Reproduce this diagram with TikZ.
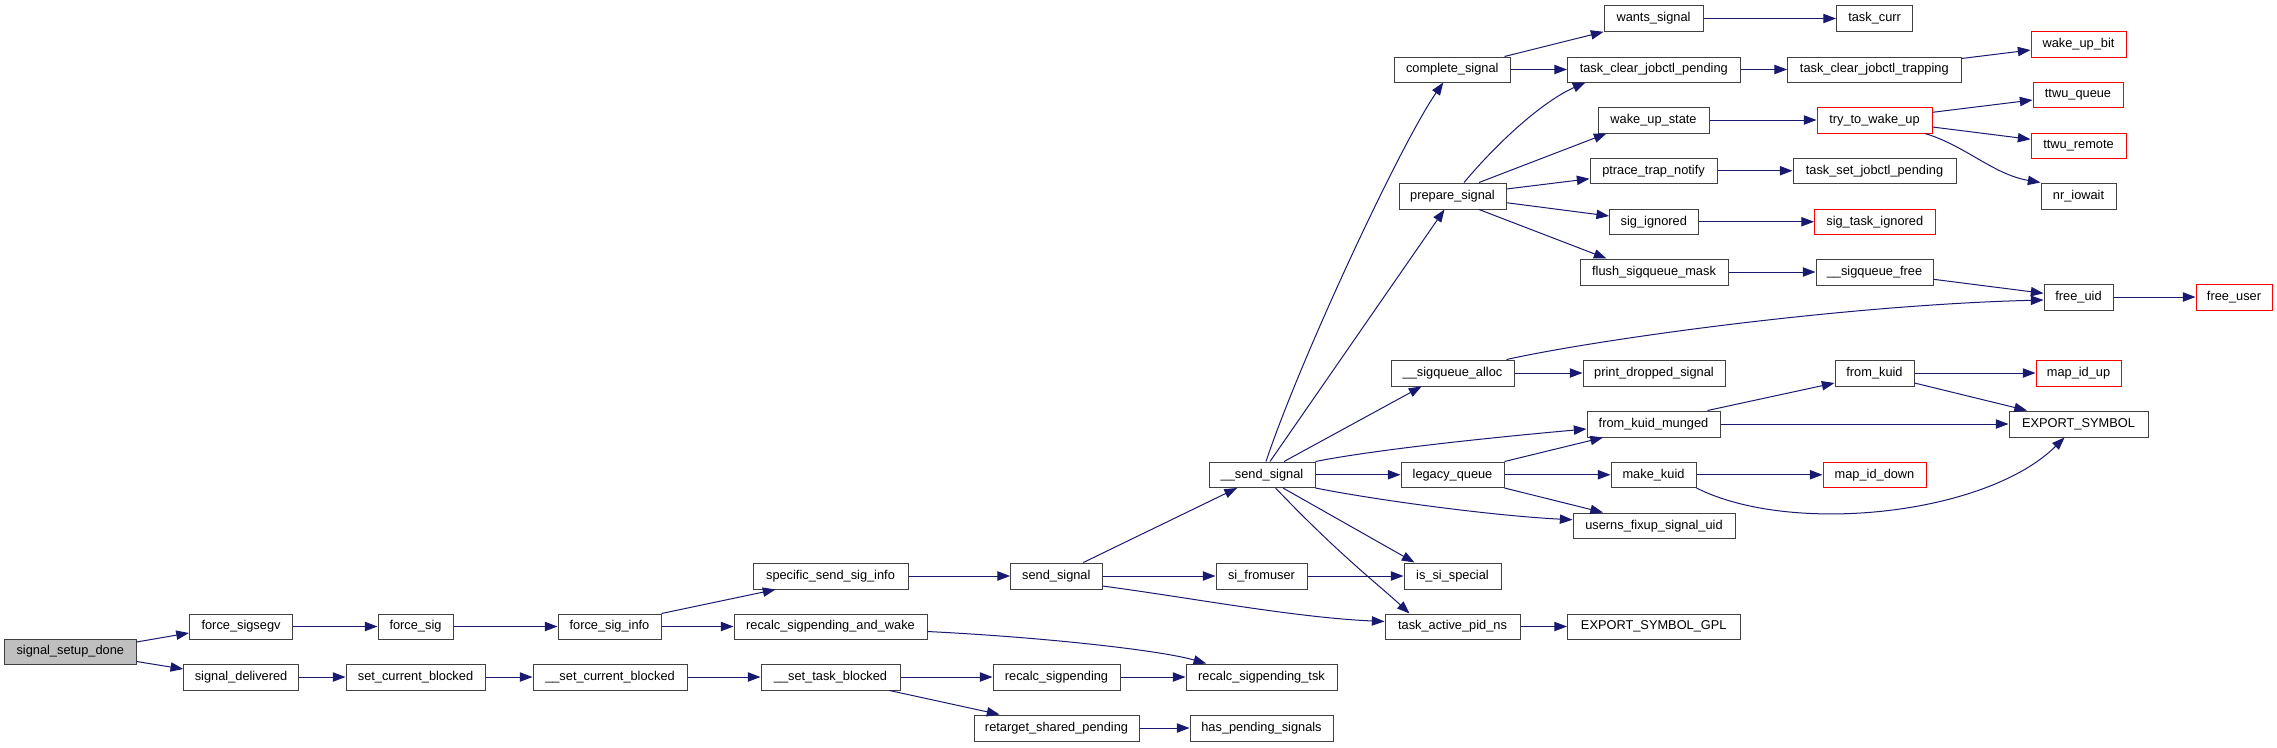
\documentclass[tikz,border=0pt]{standalone}
\usepackage{fontspec}
\setmainfont{Liberation Sans}
\usetikzlibrary{arrows.meta,calc}
\definecolor{navyc}{HTML}{191970}
\definecolor{boxgray}{HTML}{404040}
\definecolor{boxred}{HTML}{FF0000}
\newcommand\dnode[7][fn]{\node[#1,minimum width={(#5-#3)*0.75pt},minimum height={(#6-#4)*0.75pt}] (#2) at ({(#3+#5)/2},{(#4+#6)/2}) {#7};}
\begin{document}
\begin{tikzpicture}[x=0.75pt,y=-0.75pt,
  fn/.style={draw=boxgray,line width=0.75pt,inner sep=0pt,font=\fontsize{9.6}{11}\selectfont,text=black},
  fnred/.style={fn,draw=boxred},
  fnroot/.style={fn,fill=black!25},
  cedge/.style={draw=navyc,line width=0.75pt,-{Triangle[length=9.5pt,width=7pt]}}]
\useasboundingbox[fill=white] (0,0) rectangle (2277,747);
% nodes
\dnode[fnroot]{ssd}{4.6}{639}{136}{664}{signal\_setup\_done}
\dnode{fsegv}{189.4}{614}{292.7}{639}{force\_sigsegv}
\dnode{fsig}{378}{614}{453}{639}{force\_sig}
\dnode{fsi}{558}{614}{661}{639}{force\_sig\_info}
\dnode{sdel}{183.7}{664}{298.5}{690}{signal\_delivered}
\dnode{scb}{346}{664}{485}{690}{set\_current\_blocked}
\dnode{uscb}{533}{664}{687}{690}{\_\_set\_current\_blocked}
\dnode{ssi}{753}{563}{908}{589}{specific\_send\_sig\_info}
\dnode{ssig}{1010.6}{563}{1102}{589}{send\_signal}
\dnode{rsw}{734}{614}{927}{639}{recalc\_sigpending\_and\_wake}
\dnode{ustb}{761}{664}{900}{690}{\_\_set\_task\_blocked}
\dnode{rsp}{993}{664}{1120}{690}{recalc\_sigpending}
\dnode{rsptsk}{1186}{664}{1337}{690}{recalc\_sigpending\_tsk}
\dnode{rsh}{974}{715}{1139}{741}{retarget\_shared\_pending}
\dnode{hps}{1190}{715}{1333}{741}{has\_pending\_signals}
\dnode{usend}{1209}{462}{1315}{487.5}{\_\_send\_signal}
\dnode{lq}{1401}{462}{1504}{487.5}{legacy\_queue}
\dnode{mk}{1611}{462}{1696}{487.5}{make\_kuid}
\dnode{fkm}{1587}{411}{1720}{437}{from\_kuid\_munged}
\dnode{usfix}{1573}{513}{1735}{538.5}{userns\_fixup\_signal\_uid}
\dnode{sifu}{1216}{563}{1307}{589}{si\_fromuser}
\dnode{issp}{1404}{563}{1501}{589}{is\_si\_special}
\dnode{tapn}{1385}{614}{1520}{639}{task\_active\_pid\_ns}
\dnode{esg}{1567.5}{614}{1740}{639}{EXPORT\_SYMBOL\_GPL}
\dnode{wants}{1604}{5.7}{1703}{31.3}{wants\_signal}
\dnode{cs}{1394}{57}{1510.5}{82}{complete\_signal}
\dnode{tcjp}{1567.5}{57}{1740}{82}{task\_clear\_jobctl\_pending}
\dnode{wus}{1598}{107}{1709}{133}{wake\_up\_state}
\dnode{ptn}{1590}{158}{1717}{183.5}{ptrace\_trap\_notify}
\dnode{ps}{1399}{183}{1506}{209}{prepare\_signal}
\dnode{sigi}{1609.6}{209}{1698}{234.5}{sig\_ignored}
\dnode{fsm}{1580}{259}{1728}{285}{flush\_sigqueue\_mask}
\dnode{usa}{1391}{360}{1514}{386}{\_\_sigqueue\_alloc}
\dnode{pds}{1583}{360}{1725}{386}{print\_dropped\_signal}
\dnode{tcurr}{1836.5}{5.7}{1912.7}{31.3}{task\_curr}
\dnode[fnred]{wub}{2031}{31}{2126}{57}{wake\_up\_bit}
\dnode{tcjt}{1787.6}{57}{1961}{82}{task\_clear\_jobctl\_trapping}
\dnode[fnred]{ttq}{2033}{82}{2123}{107.3}{ttwu\_queue}
\dnode[fnred]{ttwu}{1817}{107}{1932}{133}{try\_to\_wake\_up}
\dnode[fnred]{ttr}{2031}{133}{2126}{158}{ttwu\_remote}
\dnode{tsjp}{1793}{158}{1956}{183.5}{task\_set\_jobctl\_pending}
\dnode{nri}{2041}{183}{2116}{209}{nr\_iowait}
\dnode[fnred]{sti}{1814.5}{209}{1935}{234.5}{sig\_task\_ignored}
\dnode{usf}{1816}{259}{1933}{285}{\_\_sigqueue\_free}
\dnode{fuid}{2044}{284}{2113}{310}{free\_uid}
\dnode[fnred]{fuser}{2196}{284}{2272}{310}{free\_user}
\dnode{fk}{1835}{360}{1914}{386}{from\_kuid}
\dnode[fnred]{miu}{2036}{360}{2121}{386}{map\_id\_up}
\dnode{es}{2009}{411}{2148}{437}{EXPORT\_SYMBOL}
\dnode[fnred]{mid}{1823}{462}{1926}{487.5}{map\_id\_down}
% edges
\draw[cedge] ($(ssd.east)+(0,-9.5)$) -- ($(fsegv.west)+(0,6.5)$);
\draw[cedge] ($(ssd.east)+(0,10)$) -- ($(sdel.west)+(0,-8)$);
\draw[cedge] (fsegv.east) -- (fsig.west);
\draw[cedge] (fsig.east) -- (fsi.west);
\draw[cedge] (fsi.north east) -- ($(ssi.south west)+(23,0)$);
\draw[cedge] (fsi.east) -- (rsw.west);
\draw[cedge] (ssi.east) -- (ssig.west);
\draw[cedge] ($(ssig.north)+(27,0)$) -- ($(usend.south)+(-25,0)$);
\draw[cedge] (ssig.east) -- (sifu.west);
\draw[cedge] ($(ssig.east)+(0,10)$) .. controls +(90,12) and +(-90,-4) .. ($(tapn.west)+(0,-5)$);
\draw[cedge] ($(rsw.east)+(0,5)$) .. controls +(120,6) and +(-45,-13) .. ($(rsptsk.north west)+(20.7,0)$);
\draw[cedge] (sdel.east) -- (scb.west);
\draw[cedge] (scb.east) -- (uscb.west);
\draw[cedge] (uscb.east) -- (ustb.west);
\draw[cedge] (ustb.east) -- (rsp.west);
\draw[cedge] ($(ustb.south east)+(-11,0)$) -- ($(rsh.north west)+(26,0)$);
\draw[cedge] (rsp.east) -- (rsptsk.west);
\draw[cedge] (rsh.east) -- (hps.west);
\draw[cedge] ($(usend.north)+(4,0)$) .. controls +(34,-102) and +(-43,62) .. ($(cs.south)+(-9,0)$);
\draw[cedge] ($(usend.north)+(8,0)$) -- ($(ps.south)+(-8,0)$);
\draw[cedge] ($(usend.north)+(22,0)$) -- ($(usa.south)+(-31,0)$);
\draw[cedge] (usend.north east) .. controls +(60,-12) and +(-90,8) .. ($(fkm.west)+(0,5)$);
\draw[cedge] (usend.east) -- (lq.west);
\draw[cedge] (usend.south east) .. controls +(60,12) and +(-80,-4) .. ($(usfix.west)+(0,-6)$);
\draw[cedge] ($(usend.south)+(21,0)$) -- ($(issp.north west)+(11,0)$);
\draw[cedge] ($(usend.south)+(13.5,0)$) .. controls +(64.5,67.5) and +(-30,-28) .. ($(tapn.north west)+(25,0)$);
\draw[cedge] (sifu.east) -- (issp.west);
\draw[cedge] (tapn.east) -- (esg.west);
\draw[cedge] (lq.north east) -- ($(fkm.south west)+(16.5,0)$);
\draw[cedge] (lq.east) -- (mk.west);
\draw[cedge] (lq.south east) -- ($(usfix.north west)+(30.5,0)$);
\draw[cedge] (mk.east) -- (mid.west);
\draw[cedge] (mk.south east) .. controls +(94,47.5) and +(-79,78) .. ($(es.south)+(-14,0)$);
\draw[cedge] ($(fkm.north east)+(-13,0)$) -- ($(fk.west)+(0,10)$);
\draw[cedge] (fkm.east) -- (es.west);
\draw[cedge] (fk.east) -- (miu.west);
\draw[cedge] ($(fk.east)+(0,10)$) -- ($(es.north west)+(18.5,0)$);
\draw[cedge] ($(usa.north east)+(-8,0)$) .. controls +(90,-20) and +(-200,5) .. ($(fuid.west)+(0,3)$);
\draw[cedge] (usa.east) -- (pds.west);
\draw[cedge] ($(cs.north east)+(-6.5,0)$) -- (wants.south west);
\draw[cedge] (cs.east) -- (tcjp.west);
\draw[cedge] (wants.east) -- (tcurr.west);
\draw[cedge] (tcjp.east) -- (tcjt.west);
\draw[cedge] ($(tcjt.east)+(0,-11)$) -- ($(wub.west)+(0,6)$);
\draw[cedge] ($(ps.north)+(11.5,0)$) .. controls +(36,-43) and +(-41,18) .. ($(tcjp.south west)+(18.5,0)$);
\draw[cedge] ($(ps.north)+(26.5,0)$) -- ($(wus.south west)+(9,0)$);
\draw[cedge] ($(ps.east)+(0,-7)$) -- ($(ptn.west)+(0,8)$);
\draw[cedge] ($(ps.east)+(0,6.7)$) -- ($(sigi.west)+(0,-5.75)$);
\draw[cedge] ($(ps.south)+(26.5,0)$) -- ($(fsm.north west)+(27,0)$);
\draw[cedge] (wus.east) -- (ttwu.west);
\draw[cedge] ($(ttwu.east)+(0,-7.7)$) -- ($(ttq.west)+(0,5.35)$);
\draw[cedge] ($(ttwu.east)+(0,7)$) -- ($(ttr.west)+(0,-6.2)$);
\draw[cedge] ($(ttwu.south east)+(-7.5,0)$) .. controls +(40,12) and +(-47,-8) .. (nri.north west);
\draw[cedge] (ptn.east) -- (tsjp.west);
\draw[cedge] (sigi.east) -- (sti.west);
\draw[cedge] (fsm.east) -- (usf.west);
\draw[cedge] ($(usf.east)+(0,7.3)$) -- ($(fuid.west)+(0,-3.7)$);
\draw[cedge] (fuid.east) -- (fuser.west);
\end{tikzpicture}
\end{document}
